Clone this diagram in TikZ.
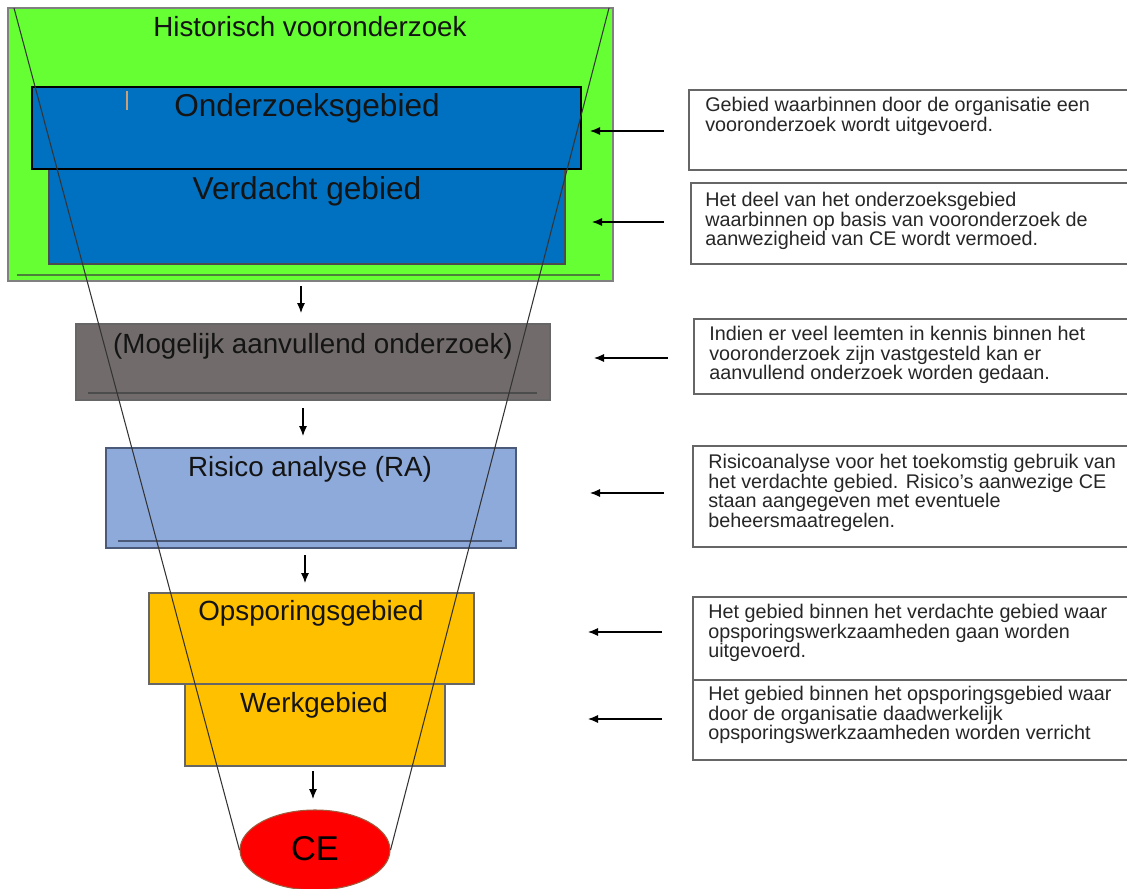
\documentclass[tikz,border=0pt]{standalone}
\usepackage{fontspec}
\setmainfont{Liberation Sans}
\usetikzlibrary{arrows.meta,shapes.geometric}
\definecolor{histgreen}{HTML}{66FF33}
\definecolor{histline}{HTML}{4C7F3A}
\definecolor{ozblue}{HTML}{0070C0}
\definecolor{mogray}{HTML}{716C6B}
\definecolor{rablue}{HTML}{8EAADB}
\definecolor{rablueline}{HTML}{4A5A78}
\definecolor{opsorange}{HTML}{FFC000}
\definecolor{cered}{HTML}{FF0000}
\definecolor{ceborder}{HTML}{A05A3C}
\definecolor{cursor}{HTML}{C8A07A}

\begin{document}
\begin{tikzpicture}
  \begin{scope}[x=0.02cm, y=-0.02cm]
    \tikzstyle{box} = [rectangle, draw=black!70, line width=0.6pt, inner sep=0pt]
    \tikzstyle{ttl} = [inner sep=0pt, font=\fontsize{15.8}{18}\selectfont, text=black!92]
    \tikzstyle{bigttl} = [inner sep=0pt, font=\fontsize{18}{20}\selectfont, text=black!92]
    \tikzstyle{desc} = [anchor=north west, inner sep=0pt, align=left, font=\fontsize{11.25}{11.1}\selectfont, text=black!85]
    \tikzstyle{dbox} = [rectangle, draw=black!60, line width=0.6pt, inner sep=0pt]
    \tikzstyle{funnel} = [draw=black!80, line width=0.6pt]
    \tikzstyle{arr} = [-{Latex[length=2mm,width=1.6mm]}, line width=0.6pt]
    \tikzset{wh/.style 2 args={minimum width=#1*0.02cm, minimum height=#2*0.02cm}}

    \useasboundingbox (0,0) rectangle (1127,889);

    % left column
    \node[box, fill=histgreen, draw=black!50, wh={605}{273}] (hist) at (310.5,144.5) {};
    \draw[histline, line width=1pt] (17,275) -- (600,275);
    \node[box, fill=ozblue, wh={516}{95}] (verd) at (307,216.5) {};
    \node[box, fill=ozblue, draw=black, line width=1.4pt, wh={549}{82}] (ozg) at (306.5,128) {};
    \draw[cursor, line width=0.6pt] (127,91) -- (127,110);
    \node[box, fill=mogray, draw=black!60, wh={474}{76}] (mog) at (313,362) {};
    \draw[black!70, line width=0.8pt] (88,393) -- (537,393);
    \node[box, fill=rablue, draw=rablueline, wh={410}{100}] (ra) at (311,498) {};
    \draw[rablueline, line width=0.8pt] (118,541) -- (502,541);
    \node[box, fill=opsorange, draw=black!60, wh={325}{91}] (ops) at (311.5,638.5) {};
    \node[box, fill=opsorange, draw=black!60, wh={260}{82}] (werk) at (315,725) {};
    \node[ellipse, fill=cered, draw=ceborder, line width=0.6pt, inner sep=0pt, wh={150}{80}] (ce) at (315,850) {};

    \node[ttl] (thist) at (310,27) {Historisch vooronderzoek};
    \node[bigttl] (tozg) at (307,108) {Onderzoeksgebied};
    \node[bigttl] (tverd) at (307,191) {Verdacht gebied};
    \node[ttl] (tmog) at (313,346) {(Mogelijk aanvullend onderzoek)};
    \node[ttl] (tra) at (310,469) {Risico analyse (RA)};
    \node[ttl] (tops) at (311,613) {Opsporingsgebied};
    \node[ttl] (twerk) at (314,705) {Werkgebied};
    \node[inner sep=0pt, font=\fontsize{19.6}{22}\selectfont] (tce) at (315,849) {CE};

    % funnel
    \coordinate (ftl) at (14,8);
    \coordinate (ftr) at (609,8);
    \draw[funnel] (ftl) -- (ce.west);
    \draw[funnel] (ftr) -- (ce.east);

    % arrows down
    \coordinate (dn1s) at (301,286);
    \coordinate (dn1e) at (301,313);
    \coordinate (dn2s) at (303,408);
    \coordinate (dn2e) at (303,436);
    \coordinate (dn3s) at (305,555);
    \coordinate (dn3e) at (305,583);
    \coordinate (dn4s) at (313,771);
    \coordinate (dn4e) at (313,799);
    \draw[arr] (dn1s) -- (dn1e);
    \draw[arr] (dn2s) -- (dn2e);
    \draw[arr] (dn3s) -- (dn3e);
    \draw[arr] (dn4s) -- (dn4e);

    % right column
    \node[dbox, wh={441}{80}] (d1) at (909.5,130) {};
    \node[dbox, wh={439}{81}] (d2) at (910.5,223.5) {};
    \node[dbox, wh={436}{75}] (d3) at (912,356.5) {};
    \node[dbox, wh={437}{101}] (d4) at (911.5,496.5) {};
    \node[dbox, wh={437}{83}] (d5) at (911.5,638.5) {};
    \node[dbox, wh={437}{80}] (d6) at (911.5,720) {};

    \node[desc] (t1) at (705,97) {Gebied waarbinnen door de organisatie een\\vooronderzoek wordt uitgevoerd.};
    \node[desc] (t2) at (705,192) {Het deel van het onderzoeksgebied\\waarbinnen op basis van vooronderzoek de\\aanwezigheid van CE wordt vermoed.};
    \node[desc] (t3) at (709,326) {Indien er veel leemten in kennis binnen het\\vooronderzoek zijn vastgesteld kan er\\aanvullend onderzoek worden gedaan.};
    \node[desc] (t4) at (708,454) {Risicoanalyse voor het toekomstig gebruik van\\het verdachte gebied. Risico's aanwezige CE\\staan aangegeven met eventuele\\beheersmaatregelen.};
    \node[desc] (t5) at (708,604) {Het gebied binnen het verdachte gebied waar\\opsporingswerkzaamheden gaan worden\\uitgevoerd.};
    \node[desc] (t6) at (708,686) {Het gebied binnen het opsporingsgebied waar\\door de organisatie daadwerkelijk\\opsporingswerkzaamheden worden verricht};

    % arrows left
    \coordinate (pt1s) at (664,131);
    \coordinate (pt1e) at (590,131);
    \coordinate (pt2s) at (664,222);
    \coordinate (pt2e) at (592,222);
    \coordinate (pt3s) at (668,358);
    \coordinate (pt3e) at (594,358);
    \coordinate (pt4s) at (664,493);
    \coordinate (pt4e) at (590,493);
    \coordinate (pt5s) at (662,632);
    \coordinate (pt5e) at (588,632);
    \coordinate (pt6s) at (662,719);
    \coordinate (pt6e) at (588,719);
    \draw[arr] (pt1s) -- (pt1e);
    \draw[arr] (pt2s) -- (pt2e);
    \draw[arr] (pt3s) -- (pt3e);
    \draw[arr] (pt4s) -- (pt4e);
    \draw[arr] (pt5s) -- (pt5e);
    \draw[arr] (pt6s) -- (pt6e);
  \end{scope}
\end{tikzpicture}
\end{document}
